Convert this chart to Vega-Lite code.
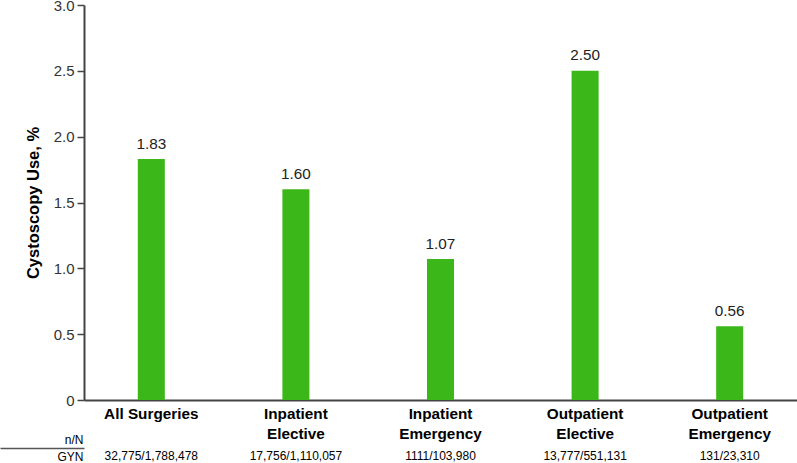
{
  "$schema": "https://vega.github.io/schema/vega-lite/v6.json",
  "width": 713,
  "height": 395,
  "autosize": "none",
  "padding": {"left": 84, "top": 5, "right": 0, "bottom": 63},
  "background": "white",
  "config": {"view": {"stroke": null}, "font": "Liberation Sans"},
  "data": {
    "values": [
      {"category": "All Surgeries", "value": 1.83, "nN": "32,775/1,788,478"},
      {"category": "Inpatient\nElective", "value": 1.60, "nN": "17,756/1,110,057"},
      {"category": "Inpatient\nEmergency", "value": 1.07, "nN": "1111/103,980"},
      {"category": "Outpatient\nElective", "value": 2.50, "nN": "13,777/551,131"},
      {"category": "Outpatient\nEmergency", "value": 0.56, "nN": "131/23,310"}
    ]
  },
  "layer": [
    {
      "encoding": {
        "x": {
          "field": "category", "type": "nominal", "sort": null,
          "scale": {"paddingInner": 0.813, "paddingOuter": 0.372},
          "axis": {
            "orient": "bottom",
            "labelExpr": "split(datum.label, '\\n')",
            "labelAngle": 0,
            "labelFontWeight": "bold",
            "labelFontSize": 15.3,
            "labelColor": "#000",
            "labelLineHeight": 20,
            "labelPadding": 6,
            "ticks": false,
            "domainColor": "#444",
            "domainWidth": 2,
            "grid": false,
            "title": "n/N",
            "titleX": -1,
            "titleY": 39.5,
            "titleAlign": "right",
            "titleBaseline": "middle",
            "titleAngle": 0,
            "titleFontWeight": "normal",
            "titleFontSize": 12,
            "titleColor": "#000"
          }
        },
        "y": {
          "field": "value", "type": "quantitative",
          "scale": {"domain": [0, 3]},
          "axis": {
            "orient": "left",
            "values": [0, 0.5, 1, 1.5, 2, 2.5, 3],
            "labelExpr": "datum.value == 0 ? '0' : format(datum.value, '.1f')",
            "grid": false,
            "tickSize": 7,
            "tickColor": "#444",
            "tickWidth": 1.5,
            "domainColor": "#444",
            "domainWidth": 2,
            "labelFontSize": 15,
            "labelColor": "#333",
            "labelPadding": 3,
            "title": "Cystoscopy Use, %",
            "titleFontSize": 16.5,
            "titleFontWeight": "bold",
            "titleColor": "#000",
            "titleX": -51,
            "titleY": 197.5,
            "titleAngle": -90,
            "titleBaseline": "middle",
            "titleAlign": "center"
          }
        }
      },
      "layer": [
        {"mark": {"type": "bar", "color": "#3cb71a"}},
        {
          "mark": {"type": "text", "dy": -10.5, "baseline": "alphabetic", "fontSize": 15.3, "color": "#222"},
          "encoding": {"text": {"field": "value", "type": "quantitative", "format": ".2f"}}
        }
      ]
    },
    {
      "mark": {"type": "tick", "opacity": 0},
      "encoding": {
        "x": {
          "field": "nN", "type": "nominal", "sort": null,
          "scale": {"paddingInner": 0.813, "paddingOuter": 0.372},
          "axis": {
            "orient": "bottom",
            "ticks": false,
            "domain": false,
            "grid": false,
            "labelAngle": 0,
            "labelFontSize": 12,
            "labelColor": "#000",
            "labelPadding": 50,
            "title": "GYN",
            "titleX": -1,
            "titleY": 56.5,
            "titleAlign": "right",
            "titleBaseline": "middle",
            "titleAngle": 0,
            "titleFontWeight": "normal",
            "titleFontSize": 12,
            "titleColor": "#000"
          }
        }
      }
    },
    {
      "mark": {"type": "point", "opacity": 0},
      "encoding": {
        "y": {
          "field": "value", "type": "quantitative",
          "scale": {"domain": [0, 1], "range": [442.7, 0]},
          "axis": {
            "orient": "left",
            "values": [0],
            "tickSize": 84,
            "tickColor": "#555",
            "tickWidth": 1.5,
            "labels": false,
            "domain": false,
            "grid": false,
            "title": null
          }
        }
      }
    }
  ],
  "resolve": {"scale": {"x": "independent", "y": "independent"}}
}
